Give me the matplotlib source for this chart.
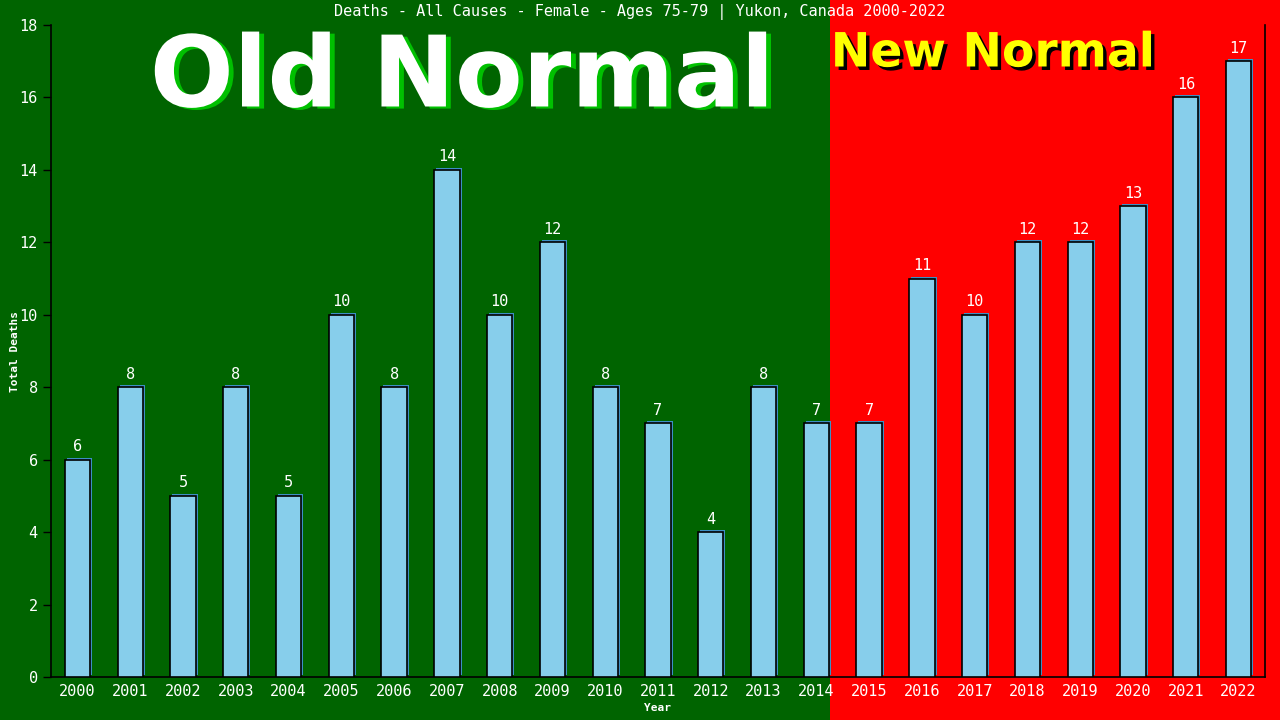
import numpy as np
import matplotlib.pyplot as plt
import matplotlib.transforms as mtransforms
import matplotlib.patheffects as pe
from matplotlib.patches import Rectangle

# Yukon, female 75-79, deaths all causes
years = [str(y) for y in range(2000, 2023)]
deaths = [6, 8, 5, 8, 5, 10, 8, 14, 10, 12, 8, 7, 4, 8, 7, 7, 11, 10, 12, 12, 13, 16, 17]
split_year = 14.26  # boundary between old and new normal (just after 2014 bar)

title = "Deaths - All Causes - Female - Ages 75-79 | Yukon, Canada 2000-2022"

mono = "DejaVu Sans Mono"

fig = plt.figure(figsize=(12.8, 7.2), dpi=100, facecolor="#ff0000")
ax = fig.add_axes([51 / 1280, 43 / 720, 1214 / 1280, 652 / 720])
ax.set_facecolor("none")

x = np.arange(len(years))

# green backdrop for the old normal, covering the figure up to the split
trans = mtransforms.blended_transform_factory(ax.transData, fig.transFigure)
fig.patches.append(Rectangle((-10, 0), split_year + 10, 1, transform=trans,
                             facecolor="#006400", edgecolor="none", zorder=-10))

# bar shadow, then bars
shadow = mtransforms.offset_copy(ax.transData, fig=fig, x=2, y=2, units="dots")
ax.bar(x, deaths, width=0.48, color="#3d8fc4", transform=shadow, zorder=2)
ax.bar(x, deaths, width=0.48, color="#87ceeb", edgecolor="black", linewidth=1.2, zorder=3)

for xi, v in zip(x, deaths):
    ax.annotate(str(v), (xi, v), xytext=(0, 4), textcoords="offset points",
                ha="center", va="bottom", color="white", fontsize=11, family=mono)

ax.set_xlim(-0.5, 22.5)
ax.set_ylim(0, 18)
ax.set_yticks(range(0, 19, 2))
ax.set_xticks(x)
ax.set_xticklabels(years)
ax.tick_params(axis="both", colors="black", labelcolor="white", labelsize=11, length=6, width=1)
ax.tick_params(axis="x", length=0, pad=5)
for lab in ax.get_xticklabels() + ax.get_yticklabels():
    lab.set_family(mono)

for s in ["left", "bottom", "right"]:
    ax.spines[s].set_color("black")
    ax.spines[s].set_linewidth(1.2)
ax.spines["top"].set_visible(False)

ax.set_xlabel("Year", color="white", fontsize=8, family=mono, fontweight="bold", labelpad=3)
ax.set_ylabel("Total Deaths", color="white", fontsize=8, family=mono, fontweight="bold", labelpad=0)

fig.text(0.5, 1 - 12 / 720, title, ha="center", va="center", color="white", fontsize=11, family=mono)

# big banners with drop shadows
fig.text(462 / 1280, 1 - 79 / 720, "Old Normal", ha="center", va="center", fontsize=71,
         fontweight="bold", color="white",
         path_effects=[pe.withSimplePatchShadow(offset=(3.5, -1.5), shadow_rgbFace="#00c000", alpha=1)])

fig.text(993 / 1280, 1 - 54 / 720, "New Normal", ha="center", va="center", fontsize=34,
         fontweight="bold", color="#ffff00",
         path_effects=[pe.withSimplePatchShadow(offset=(2.5, -2.5), shadow_rgbFace="black", alpha=1)])

fig.savefig("out.png", dpi=100, facecolor=fig.get_facecolor())
